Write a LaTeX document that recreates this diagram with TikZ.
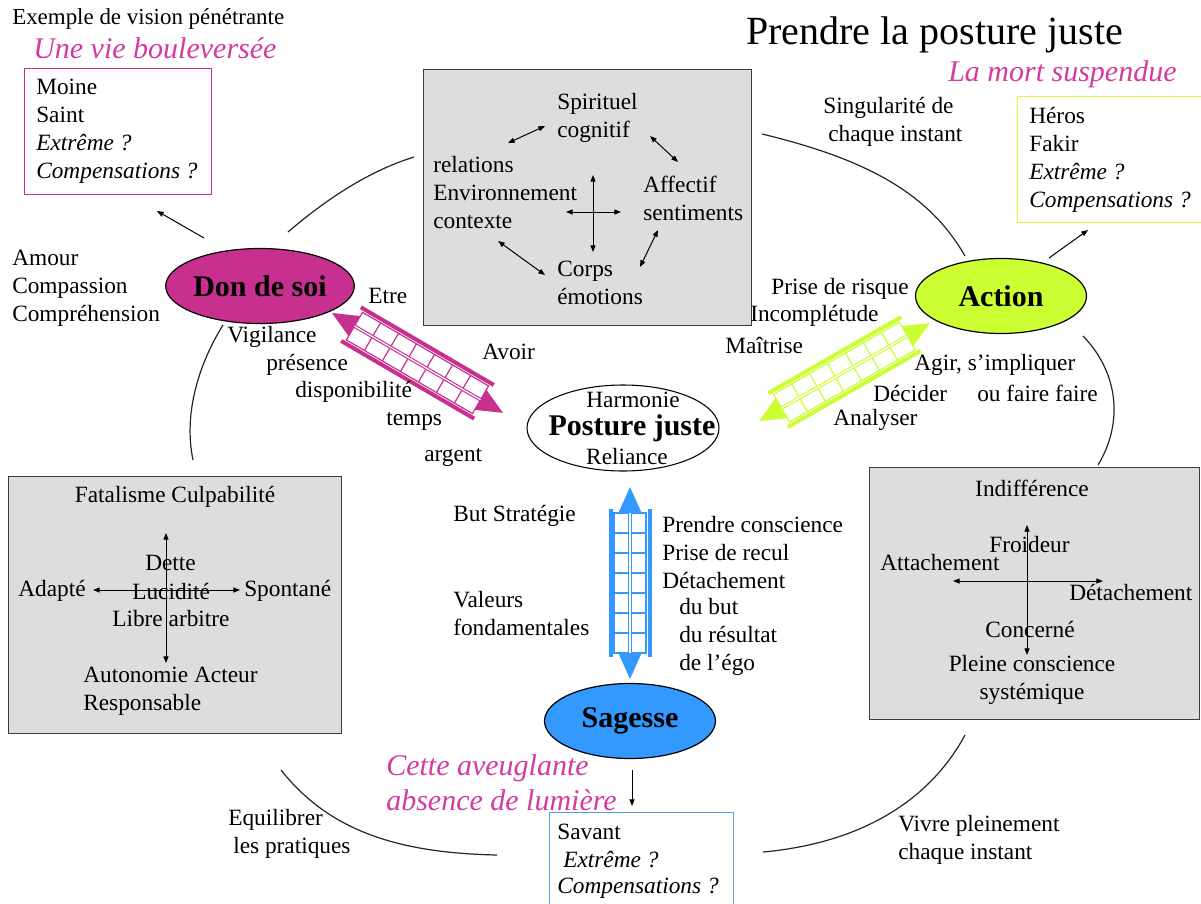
\documentclass[tikz,border=0pt]{standalone}
\usepackage{fontspec}
\setmainfont{Liberation Serif}
\usetikzlibrary{arrows.meta,shapes.geometric}
\definecolor{mag}{RGB}{200,48,144}
\definecolor{pinktxt}{RGB}{212,58,160}
\definecolor{lime}{RGB}{204,255,51}
\definecolor{skyb}{RGB}{51,153,255}
\definecolor{savantline}{RGB}{80,160,240}
\definecolor{boxgray}{RGB}{221,221,221}
\definecolor{darkline}{RGB}{60,60,60}
\tikzset{
  txt/.style={inner sep=0pt, font=\fontsize{17.5}{21}\selectfont, align=left, text=black},
  pinkit/.style={inner sep=0pt, font=\fontsize{22.5}{24}\selectfont\itshape, text=pinktxt, align=left},
  titletxt/.style={inner sep=0pt, font=\fontsize{30}{36}\selectfont, text=black},
  bigell/.style={ellipse, draw=black, line width=0.9pt, inner sep=0pt,
    minimum width=128.25pt, minimum height=56.25pt,
    font=\fontsize{22.5}{26}\selectfont\bfseries, text=black},
  graybox/.style={rectangle, draw=darkline, line width=0.9pt, fill=boxgray, inner sep=0pt},
  framebox/.style={rectangle, line width=0.8pt, inner sep=0pt, fill=none},
  link/.style={line width=0.9pt, black!85},
  arr/.style={line width=0.75pt, black, -{Stealth[length=5pt,width=3.8pt,inset=0pt]}},
  darr/.style={line width=0.75pt, black, {Stealth[length=5pt,width=3.8pt,inset=0pt]}-{Stealth[length=5pt,width=3.8pt,inset=0pt]}},
}
\newcommand\ladarrow[5]{%
\begin{scope}[shift={(#1,#2)}, rotate=#3]
 \fill[#5] (0,0) -- (38,17) -- (38,-17) -- cycle;
 \fill[#5] (#4,0) -- ({#4-38},17) -- ({#4-38},-17) -- cycle;
 \fill[white] (26,-16) rectangle ({#4-26},16);
 \draw[#5, line width=0.9pt] (26,-16) rectangle ({#4-26},16);
 \foreach \k in {1,...,6} \draw[#5, line width=0.9pt] ({26+\k*(#4-52)/7},-16) -- ({26+\k*(#4-52)/7},16);
 \draw[#5, line width=2.6pt] (26,0) -- ({#4-26},0);
 \draw[white, line width=0.9pt] (26,0) -- ({#4-26},0);
 \draw[#5, line width=3pt] (22,19.5) -- ({#4-22},19.5);
 \draw[#5, line width=3pt] (22,-19.5) -- ({#4-22},-19.5);
\end{scope}}
\begin{document}
\begin{tikzpicture}[x=0.75pt,y=-0.75pt]
\useasboundingbox[fill=white] (0,0) rectangle (1201,903);

% ---------- titles
\node[titletxt, anchor=west] (title) at (746,35) {Prendre la posture juste};
\node[pinkit, anchor=west] (mort) at (948,74) {La mort suspendue};
\node[txt, anchor=west, font=\fontsize{17.2}{20}\selectfont] (exemple) at (12,19) {Exemple de vision pénétrante};
\node[pinkit, anchor=west] (vie) at (33,48) {Une vie bouleversée};

% ---------- top-left pink box
\node[framebox, draw=mag, anchor=north west, minimum width=140.25pt, minimum height=94.5pt] (pbox) at (24,68) {};
\node[txt, anchor=west] (pboxtxt) at (36,131) {Moine\\Saint\\\textit{Extrême ?}\\\textit{Compensations ?}};

% ---------- top-right green box
\node[framebox, draw=lime, line width=1pt, anchor=north west, minimum width=150pt, minimum height=94.5pt] (gbox) at (1017,96) {};
\node[txt, anchor=west] (gboxtxt) at (1029,160) {Héros\\Fakir\\\textit{Extrême ?}\\\textit{Compensations ?}};

% ---------- left labels
\node[txt, anchor=west] (amour) at (12,288) {Amour\\Compassion\\Compréhension};

% ---------- top gray box
\node[graybox, anchor=north west, minimum width=246pt, minimum height=192pt] (topbox) at (423,69) {};
\node[txt, anchor=west] (spir) at (557,118) {Spirituel\\cognitif};
\node[txt, anchor=west] (rel) at (433,193) {relations\\Environnement\\contexte};
\node[txt, anchor=west] (aff) at (643,198) {Affectif\\sentiments};
\node[txt, anchor=west] (corps) at (557,283) {Corps\\émotions};
\coordinate (t1a) at (508,143); \coordinate (t1b) at (545,126);
\coordinate (t2a) at (650,136); \coordinate (t2b) at (678,162);
\coordinate (t3a) at (658,230); \coordinate (t3b) at (640,267);
\coordinate (t4a) at (498,241); \coordinate (t4b) at (545,275);
\coordinate (tva) at (593,175); \coordinate (tvb) at (593,252);
\coordinate (tha) at (566,212); \coordinate (thb) at (621,212);
\draw[darr] (t1a) -- (t1b);
\draw[darr] (t2a) -- (t2b);
\draw[darr] (t3a) -- (t3b);
\draw[darr] (t4a) -- (t4b);
\draw[darr] (tva) -- (tvb);
\draw[darr] (tha) -- (thb);

% ---------- ellipses
\node[bigell, fill=mag] (don) at (260,286) {Don de soi};
\node[bigell, fill=lime] (action) at (1001,296) {Action};
\node[bigell, fill=skyb] (sagesse) at (630,721) {Sagesse};
\node[ellipse, draw=black, line width=0.8pt, fill=white, minimum width=144pt, minimum height=64.5pt] (posture) at (623,428) {};
\node[txt] (harm) at (633,400) {Harmonie};
\node[inner sep=0pt, font=\fontsize{22.5}{26}\selectfont\bfseries] (pj) at (632,428) {Posture juste};
\node[txt] (reli) at (627,457) {Reliance};

% ---------- ladder arrows
\ladarrow{332}{313}{-30.3}{198}{mag}
\ladarrow{759}{421}{29.8}{197}{lime}
\ladarrow{630}{487}{-90}{192}{skyb}

% ---------- labels around magenta arrow
\node[txt, anchor=west] (etre) at (368,296) {Etre};
\node[txt, anchor=west] (avoir) at (482,352) {Avoir};
\node[txt, anchor=west] (vigil) at (227,337) {Vigilance};
\node[txt, anchor=west] (pres) at (266,365) {présence};
\node[txt, anchor=west] (dispo) at (295,392) {disponibilité};
\node[txt, anchor=west] (temps) at (386,421) {temps};
\node[txt, anchor=west] (argent) at (424,457) {argent};

% ---------- labels around green arrow
\node[txt, anchor=west] (sing) at (823,108) {Singularité de};
\node[txt, anchor=west] (chaq) at (828,136) {chaque instant};
\node[txt, anchor=west] (risque) at (771,289) {Prise de risque};
\node[txt, anchor=west] (incompl) at (750,316) {Incomplétude};
\node[txt, anchor=west] (maitr) at (725,345) {Maîtrise};
\node[txt, anchor=west] (agir) at (914,365) {Agir, s’impliquer};
\node[txt, anchor=west] (faire) at (977,393) {ou faire faire};
\node[txt, anchor=west] (decid) at (873,393) {Décider};
\node[txt, anchor=west] (analy) at (833,420) {Analyser};

% ---------- labels around blue arrow
\node[txt, anchor=west] (but) at (453,516) {But Stratégie};
\node[txt, anchor=west] (valeurs) at (453,614) {Valeurs\\fondamentales};
\node[txt, anchor=west] (prendre) at (662,553) {Prendre conscience\\Prise de recul\\Détachement};
\node[txt, anchor=west] (dubut) at (679,637) {du but\\du résultat\\de l’égo};

% ---------- left gray box
\node[graybox, anchor=north west, minimum width=249.75pt, minimum height=192.75pt] (lbox) at (8,476) {};
\node[txt] (fatal) at (175,497) {Fatalisme Culpabilité};
\node[txt, anchor=west] (dette) at (145,563) {Dette};
\node[txt, anchor=west] (lucid) at (132,591) {Lucidité};
\node[txt, anchor=west] (libre) at (112,619) {Libre arbitre};
\node[txt, anchor=west] (adapte) at (18,591) {Adapté};
\node[txt, anchor=west] (spont) at (244,591) {Spontané};
\node[txt, anchor=west] (auton) at (83,691) {Autonomie Acteur\\Responsable};
\coordinate (lva) at (166,533); \coordinate (lvb) at (166,663);
\coordinate (lha) at (93,590); \coordinate (lhb) at (240,590);
\draw[darr] (lva) -- (lvb);
\draw[darr] (lha) -- (lhb);

% ---------- right gray box
\node[graybox, anchor=north west, minimum width=247.5pt, minimum height=189pt] (rbox) at (869,467) {};
\node[txt] (indif) at (1032,488) {Indifférence};
\node[txt, anchor=west] (froid) at (989,545) {Froideur};
\node[txt, anchor=west] (attach) at (880,563) {Attachement};
\node[txt, anchor=west] (detach) at (1069,592) {Détachement};
\node[txt, anchor=west] (concer) at (985,629) {Concerné};
\node[txt, align=center] (pleine) at (1032,680) {Pleine conscience\\systémique};
\coordinate (rva) at (1027,525); \coordinate (rvb) at (1027,655);
\coordinate (rha) at (953,581); \coordinate (rhb) at (1103,581);
\draw[darr] (rva) -- (rvb);
\draw[darr] (rha) -- (rhb);

% ---------- bottom
\node[pinkit, anchor=west] (cette) at (386,768) {Cette aveuglante};
\node[pinkit, anchor=west] (absence) at (386,800) {absence de lumière};
\node[framebox, draw=savantline, anchor=north west, minimum width=138pt, minimum height=90pt] (sbox) at (549,812) {};
\node[txt, anchor=west] (savant) at (557,832) {Savant};
\node[txt, anchor=west] (sext) at (563,860) {\textit{Extrême ?}};
\node[txt, anchor=west] (scomp) at (557,888) {\textit{Compensations ?}};
\node[txt, anchor=west] (equi) at (228,820) {Equilibrer};
\node[txt, anchor=west] (prat) at (233,848) {les pratiques};
\node[txt, anchor=west] (vivre) at (898,826) {Vivre pleinement};
\node[txt, anchor=west] (chaq2) at (898,854) {chaque instant};

% ---------- small arrows to the boxes
\coordinate (dA) at (204,238); \coordinate (dB) at (157,211);
\coordinate (aA) at (1049,258); \coordinate (aB) at (1088,230);
\coordinate (sA) at (632,770); \coordinate (sB) at (632,806);
\draw[arr] (dA) -- (dB);
\draw[arr] (aA) -- (aB);
\draw[arr] (sA) -- (sB);

% ---------- cycle curves
\coordinate (c1a) at (288,232); \coordinate (c1b) at (414,157);
\coordinate (c2a) at (223,325); \coordinate (c2b) at (193,460);
\coordinate (c3a) at (762,134); \coordinate (c3b) at (965,256);
\coordinate (c4a) at (1083,336); \coordinate (c4b) at (1098,465);
\coordinate (c5a) at (965,735); \coordinate (c5b) at (763,852);
\coordinate (c6a) at (281,770); \coordinate (c6b) at (497,855);
\draw[link] (c1a) .. controls (330,196) and (372,170) .. (c1b);
\draw[link] (c2a) .. controls (200,362) and (183,412) .. (c2b);
\draw[link] (c3a) .. controls (870,160) and (930,195) .. (c3b);
\draw[link] (c4a) .. controls (1118,372) and (1124,422) .. (c4b);
\draw[link] (c5a) .. controls (930,800) and (862,843) .. (c5b);
\draw[link] (c6a) .. controls (330,832) and (400,853) .. (c6b);
\end{tikzpicture}
\end{document}
